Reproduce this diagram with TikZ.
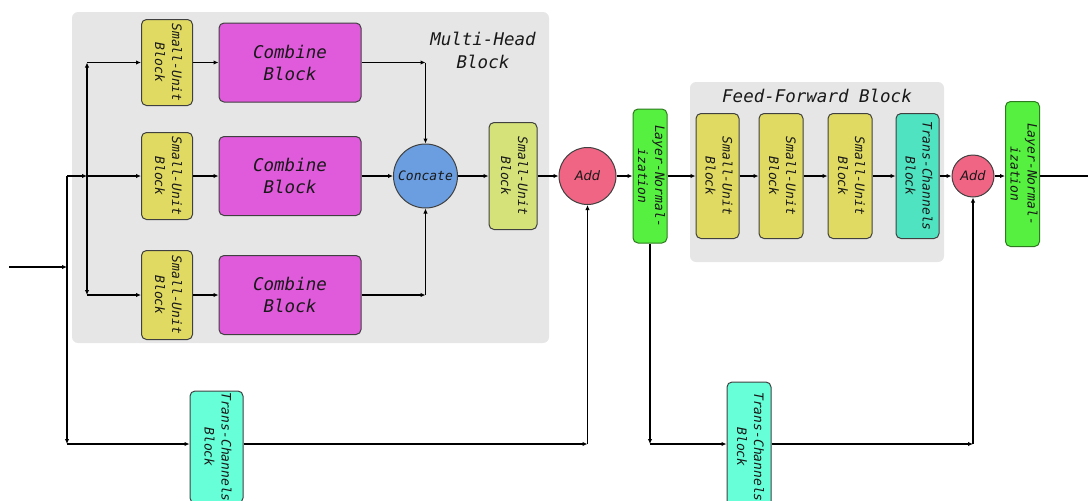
\documentclass[tikz,border=0pt]{standalone}
\usepackage{fontspec}
\setmonofont{DejaVu Sans Mono}
\newfontfamily\addfont{DejaVu Sans}
\usepackage{graphicx}
\usetikzlibrary{arrows.meta}
\definecolor{bggray}{HTML}{E6E6E6}
\definecolor{suy}{HTML}{E0DA62}
\definecolor{sul}{HTML}{D5E27A}
\definecolor{cbm}{HTML}{E05ADC}
\definecolor{conc}{HTML}{6A9EE0}
\definecolor{addp}{HTML}{F06484}
\definecolor{lng}{HTML}{55F040}
\definecolor{lnd}{HTML}{2E7A1E}
\definecolor{tcf}{HTML}{50E3C2}
\definecolor{tcb}{HTML}{66FFD8}
\newcommand{\smallfnt}{\fontsize{13}{17}\selectfont\ttfamily\itshape}
\newcommand{\bigfnt}{\fontsize{17.5}{22}\selectfont\ttfamily\itshape}
\newcommand{\vtxt}[1]{\rotatebox{-90}{\begin{tabular}{@{}c@{}}#1\end{tabular}}}
\begin{document}
\begin{tikzpicture}[x=1pt,y=-1pt,
  box/.style={draw=black!75, line width=1pt, rounded corners=5pt, inner sep=0pt, text=black!90, font=\smallfnt},
  su/.style={box, fill=suy},
  cb/.style={box, fill=cbm, font=\bigfnt, align=center},
  lnbox/.style={box, fill=lng, draw=lnd},
  tc/.style={box, fill=tcb},
  circ/.style={circle, draw=black!75, line width=1pt, inner sep=0pt, text=black!90},
  arr/.style={line width=1.2pt, -{Latex[length=5pt,width=4.5pt]}},
  wire/.style={line width=1.2pt},
  bg/.style={fill=bggray, rounded corners=6pt}
]
\useasboundingbox (0,0) rectangle (1088,501);
\clip (0,0) rectangle (1088,501);
% backgrounds
\fill[bg] (72,12) rectangle (549,343);
\fill[bg] (690,82) rectangle (944,262);
\node[font=\bigfnt, align=center, text=black!90] (mhlabel) at (483,50) {Multi-Head\\[1pt]Block};
\node[font=\bigfnt, text=black!90] (fflabel) at (817,96) {Feed-Forward Block};
% multi-head
\node[su, minimum width=51pt, minimum height=86pt] (su1) at (167,62.5) {\vtxt{Small-Unit\\Block}};
\node[su, minimum width=51pt, minimum height=87pt] (su2) at (167,176) {\vtxt{Small-Unit\\Block}};
\node[su, minimum width=51pt, minimum height=89pt] (su3) at (167,295) {\vtxt{Small-Unit\\Block}};
\node[cb, minimum width=142pt, minimum height=79pt] (cb1) at (290,62.5) {Combine\\Block};
\node[cb, minimum width=142pt, minimum height=79pt] (cb2) at (290,176) {Combine\\Block};
\node[cb, minimum width=142pt, minimum height=79pt] (cb3) at (290,295) {Combine\\Block};
\node[circ, fill=conc, minimum size=64pt, font=\smallfnt] (conc) at (425.5,176) {Concate};
\node[su, fill=sul, minimum width=48pt, minimum height=107pt] (su4) at (513,176) {\vtxt{Small-Unit\\Block}};
\node[circ, fill=addp, minimum size=57pt, font=\fontsize{13}{15}\selectfont\addfont\itshape] (add1) at (587.5,176) {Add};
\node[lnbox, minimum width=34pt, minimum height=134pt] (ln1) at (650,176) {\vtxt{Layer-Normal-\\ization}};
% feed-forward
\node[su, minimum width=43pt, minimum height=125pt] (sua) at (717.5,176) {\vtxt{Small-Unit\\Block}};
\node[su, minimum width=44pt, minimum height=125pt] (sub) at (781,176) {\vtxt{Small-Unit\\Block}};
\node[su, minimum width=44pt, minimum height=125pt] (suc) at (850,176) {\vtxt{Small-Unit\\Block}};
\node[tc, fill=tcf, minimum width=43pt, minimum height=125pt] (tcff) at (917.5,176) {\vtxt{Trans-Channels\\Block}};
\node[circ, fill=addp, minimum size=42pt, font=\fontsize{13}{15}\selectfont\addfont\itshape] (add2) at (973,176) {Add};
\node[lnbox, minimum width=29pt, minimum height=145pt] (ln2) at (1022.5,174) {\vtxt{Layer-Normal-\\ization}};
% bottom trans-channels
\node[tc, minimum width=53pt, minimum height=112pt] (tc1) at (216.5,447) {\vtxt{Trans-Channels\\Block}};
\node[tc, minimum width=44pt, minimum height=130pt] (tc2) at (749,447) {\vtxt{Trans-Channels\\Block}};
% coordinates
\coordinate (in) at (9,267);
\coordinate (j0) at (67,267);
\coordinate (v0top) at (67,176);
\coordinate (v0bot) at (67,444);
\coordinate (j1) at (87,176);
\coordinate (j1top) at (87,62.5);
\coordinate (j1bot) at (87,295);
\coordinate (r1) at (425.5,62.5);
\coordinate (r3) at (425.5,295);
\coordinate (c1) at (587.5,444);
\coordinate (c2) at (650,444);
\coordinate (c3) at (973,444);
\coordinate (out) at (1088,176);
% connectors
\draw[arr] (in) -- (j0);
\draw[wire] (j0) -- (v0top);
\draw[arr] (j0) -- (v0bot);
\draw[arr] (v0top) -- (j1);
\draw[arr] (j1) -- (su2.west);
\draw[arr] (j1) -- (j1top);
\draw[arr] (j1top) -- (su1.west);
\draw[arr] (j1) -- (j1bot);
\draw[arr] (j1bot) -- (su3.west);
\draw[arr] (su1.east) -- (cb1.west);
\draw[arr] (su2.east) -- (cb2.west);
\draw[arr] (su3.east) -- (cb3.west);
\draw[arr] (cb1.east) -- (r1);
\draw[arr] (r1) -- (conc.north);
\draw[arr] (cb3.east) -- (r3);
\draw[arr] (r3) -- (conc.south);
\draw[arr] (cb2.east) -- (conc.west);
\draw[arr] (conc.east) -- (su4.west);
\draw[arr] (su4.east) -- (add1.west);
\draw[arr] (add1.east) -- (ln1.west);
\draw[arr] (ln1.east) -- (sua.west);
\draw[arr] (sua.east) -- (sub.west);
\draw[arr] (sub.east) -- (suc.west);
\draw[arr] (suc.east) -- (tcff.west);
\draw[arr] (tcff.east) -- (add2.west);
\draw[arr] (add2.east) -- (add2.east -| ln2.west);
\draw[wire] (add2.east -| ln2.east) -- (out);
\draw[arr] (v0bot) -- (tc1.west |- v0bot);
\draw[arr] (tc1.east |- c1) -- (c1);
\draw[arr] (c1) -- (add1.south);
\draw[arr] (ln1.south) -- (c2);
\draw[arr] (c2) -- (tc2.west |- c2);
\draw[arr] (tc2.east |- c3) -- (c3);
\draw[arr] (c3) -- (add2.south);
\end{tikzpicture}
\end{document}
